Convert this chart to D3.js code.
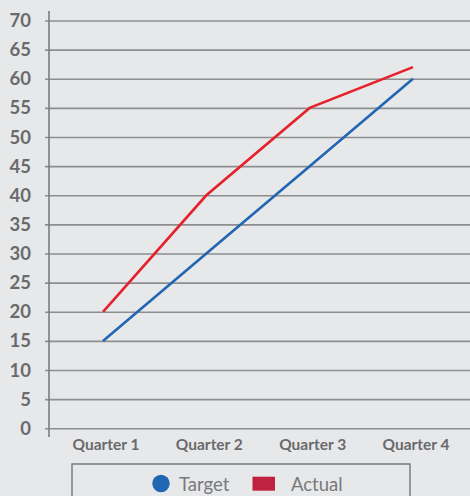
<!DOCTYPE html>
<html>
<head>
<meta charset="utf-8">
<script src="https://cdn.jsdelivr.net/npm/d3@7"></script>
<style>
  html, body { margin: 0; padding: 0; background: #e7e8ea; }
  svg { display: block; }
</style>
</head>
<body>
<svg id="chart" width="470" height="496"></svg>
<script>
// Quarterly target vs actual
const quarters = ["Quarter 1", "Quarter 2", "Quarter 3", "Quarter 4"];
const targetValues = [15, 30, 45, 60];
const actualValues = [20, 40, 55, 62];
const yTicks = [0, 5, 10, 15, 20, 25, 30, 35, 40, 45, 50, 55, 60, 65, 70];
const seriesNames = ["Target", "Actual"];

const W = 470, H = 496;
const svg = d3.select("#chart");
const font = "Lato, 'DejaVu Sans', sans-serif";

const axisX = 49;
const x = d3.scalePoint().domain(quarters).range([103, 413]);
const y = d3.scaleLinear().domain([0, 70]).range([428.3, 20.5]);

// horizontal grid with short ticks left of the axis
const grid = svg.append("g")
  .attr("transform", `translate(${axisX},0)`)
  .call(d3.axisLeft(y).tickValues(yTicks).tickSize(-(W - axisX)).tickFormat(""));
grid.select(".domain").remove();
grid.selectAll(".tick line")
  .attr("x1", -4)
  .attr("stroke", "#8d8e90")
  .attr("stroke-width", 1.6);

// y tick labels
svg.append("g").selectAll("text")
  .data(yTicks)
  .join("text")
  .attr("x", 31)
  .attr("y", d => y(d) + 6.5)
  .attr("text-anchor", "end")
  .attr("font-family", font)
  .attr("font-weight", 700)
  .attr("font-size", 18.5)
  .attr("fill", "#6a6a6c")
  .text(d => d);

// vertical axis line
svg.append("line")
  .attr("x1", axisX).attr("x2", axisX)
  .attr("y1", 11).attr("y2", 437)
  .attr("stroke", "#7a7b7d")
  .attr("stroke-width", 1.6);

// x labels
svg.append("g").selectAll("text")
  .data(quarters)
  .join("text")
  .attr("x", d => x(d) + 3)
  .attr("y", 450)
  .attr("text-anchor", "middle")
  .attr("font-family", font)
  .attr("font-weight", 700)
  .attr("font-size", 15.5)
  .attr("fill", "#6a6a6c")
  .text(d => d);

// series lines
const line = d3.line()
  .x((d, i) => x(quarters[i]))
  .y(d => y(d));

svg.append("path")
  .datum(targetValues)
  .attr("d", line)
  .attr("fill", "none")
  .attr("stroke", "#2166b3")
  .attr("stroke-width", 2.6);

svg.append("path")
  .datum(actualValues)
  .attr("d", line)
  .attr("fill", "none")
  .attr("stroke", "#e5212b")
  .attr("stroke-width", 2.6);

// legend
svg.append("rect")
  .attr("x", 72).attr("y", 464)
  .attr("width", 338).attr("height", 50)
  .attr("fill", "none")
  .attr("stroke", "#7a7b7d")
  .attr("stroke-width", 1.5);

svg.append("circle")
  .attr("cx", 161).attr("cy", 483.5).attr("r", 8.7)
  .attr("fill", "#2166b3");
svg.append("text")
  .attr("x", 179).attr("y", 490.5)
  .attr("font-family", font)
  .attr("font-size", 18.5)
  .attr("fill", "#78797b")
  .text(seriesNames[0]);

svg.append("rect")
  .attr("x", 252.5).attr("y", 476.7)
  .attr("width", 22.5).attr("height", 14)
  .attr("fill", "#c0213f");
svg.append("text")
  .attr("x", 291).attr("y", 490.5)
  .attr("font-family", font)
  .attr("font-size", 18.5)
  .attr("fill", "#78797b")
  .text(seriesNames[1]);
</script>
</body>
</html>
